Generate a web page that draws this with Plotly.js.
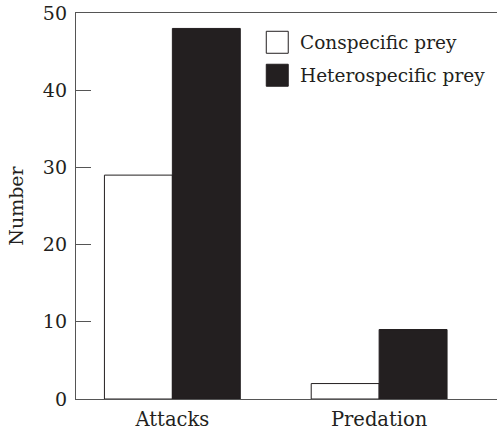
<!DOCTYPE html>
<html>
<head>
<meta charset="utf-8">
<script src="https://cdn.plot.ly/plotly-3.0.1.min.js"></script>
<style>html,body{margin:0;padding:0;background:#fff;}#chart{width:498px;height:430px;}</style>
</head>
<body>
<div id="chart"></div>
<script>
var categories = ["Attacks", "Predation"];
var seriesNames = ["Conspecific prey", "Heterospecific prey"];
var conspecific = [29, 2];
var heterospecific = [48, 9];
var yTicks = [0, 10, 20, 30, 40, 50];

var ink = "#231f20";
var fontFam = "DejaVu Serif, serif";

var traces = [
  {type: "bar", name: seriesNames[0], x: categories, y: conspecific,
   marker: {color: "#ffffff", line: {color: ink, width: 1}}, showlegend: false, hoverinfo: "none"},
  {type: "bar", name: seriesNames[1], x: categories, y: heterospecific,
   marker: {color: ink, line: {color: ink, width: 1}}, showlegend: false, hoverinfo: "none"}
];

var L = 75.5, R = 497, T = 12.7, B = 399;
function px(x){ return (x - L) / (R - L); }
function py(y){ return (B - y) / (B - T); }

var layout = {
  width: 498, height: 430,
  margin: {l: L, r: 498 - R, t: T, b: 430 - B, pad: 0},
  paper_bgcolor: "#fff", plot_bgcolor: "#fff",
  barmode: "group", bargap: 0.343, bargroupgap: 0,
  font: {family: fontFam, size: 19, color: ink},
  xaxis: {type: "category", range: [-0.466, 1.570], showline: true, mirror: true,
          linecolor: "#555", linewidth: 1.2, ticks: "", showgrid: false, zeroline: false,
          ticklabelstandoff: 2,
          tickfont: {family: fontFam, size: 19.5, color: ink}},
  yaxis: {range: [0, 50], tickvals: yTicks, ticktext: yTicks.map(String), showline: true,
          linecolor: "#555", linewidth: 1.2, ticks: "inside", ticklen: 15, tickcolor: "#555",
          tickwidth: 1.2, showgrid: false, zeroline: false, ticklabelstandoff: 4,
          tickfont: {family: fontFam, size: 19, color: ink},
          title: {text: "Number", font: {family: fontFam, size: 19, color: ink}, standoff: 14}},
  shapes: [
    {type: "rect", xref: "paper", yref: "paper", x0: px(266), x1: px(288), y0: py(53), y1: py(31),
     line: {color: ink, width: 1}, fillcolor: "#fff"},
    {type: "rect", xref: "paper", yref: "paper", x0: px(266), x1: px(288), y0: py(86), y1: py(64),
     line: {color: ink, width: 1}, fillcolor: ink}
  ],
  annotations: [
    {xref: "paper", yref: "paper", x: px(298), y: py(42), xanchor: "left", yanchor: "middle",
     text: seriesNames[0], showarrow: false, font: {family: fontFam, size: 18.5, color: ink}},
    {xref: "paper", yref: "paper", x: px(298), y: py(75), xanchor: "left", yanchor: "middle",
     text: seriesNames[1], showarrow: false, font: {family: fontFam, size: 18.5, color: ink}}
  ]
};

Plotly.newPlot("chart", traces, layout, {staticPlot: true, displayModeBar: false});
</script>
</body>
</html>
